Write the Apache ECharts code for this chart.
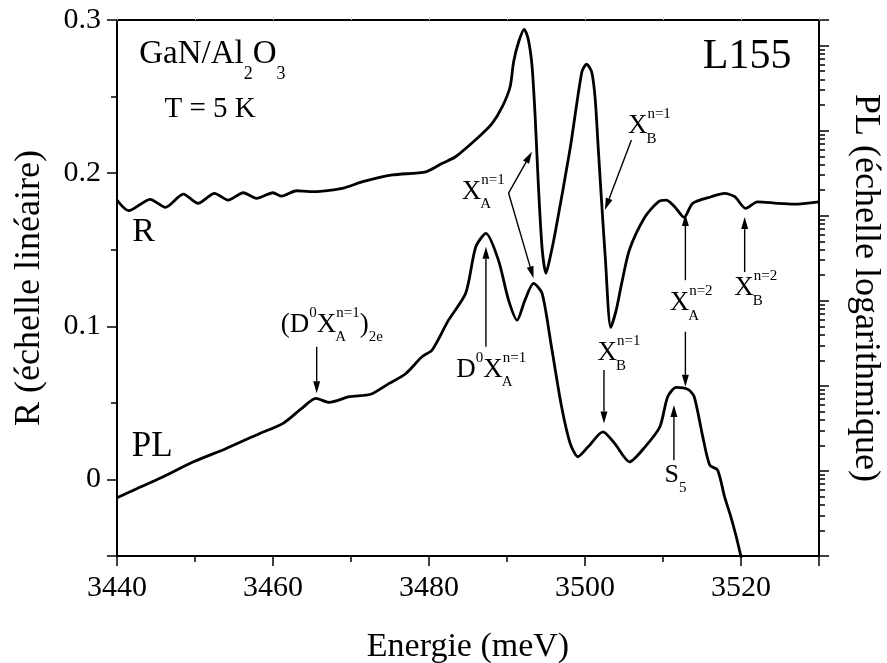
<!DOCTYPE html>
<html>
<head>
<meta charset="utf-8">
<title>GaN/Al2O3 L155</title>
<script src="https://cdn.jsdelivr.net/npm/echarts@6/dist/echarts.min.js"></script>
<style>
  html, body { margin: 0; padding: 0; background: #fff; }
  #chart { width: 887px; height: 663px; }
</style>
</head>
<body>
<div id="chart"></div>
<script>
// reflectance curve (R), energy in meV
const rEnergy = [3440.0, 3441.5, 3444.25, 3446.2, 3448.5, 3450.4, 3452.5, 3454.25, 3456.2, 3457.9,
  3460.0, 3461.1, 3463.0, 3464.7, 3468.9, 3471.5, 3475.3, 3479.6, 3481.7, 3483.4,
  3486.4, 3488.1, 3489.4, 3490.4, 3490.85, 3491.5, 3492.2, 3492.7, 3493.2, 3493.6,
  3494.0, 3494.5, 3495.0, 3495.5, 3496.2, 3498.1, 3499.6, 3500.2, 3500.85, 3501.3,
  3501.7, 3502.1, 3502.6, 3503.3, 3504.0, 3504.7, 3505.7, 3507.7, 3509.4, 3510.4,
  3511.5, 3512.7, 3513.8, 3516.2, 3517.9, 3519.2, 3520.6, 3522.1, 3524.7, 3526.8, 3530.0];
const rValue = [0.1824, 0.1755, 0.1829, 0.1777, 0.1863, 0.1803, 0.1868, 0.1824, 0.1872, 0.1835,
  0.1872, 0.1850, 0.1885, 0.1879, 0.1901, 0.1944, 0.1988, 0.2009, 0.2064, 0.2107,
  0.2238, 0.2325, 0.2434, 0.2564, 0.2728, 0.2858, 0.2939, 0.2880, 0.2706, 0.2380,
  0.1944, 0.1509, 0.1346, 0.1443, 0.1617, 0.2162, 0.2662, 0.2711, 0.2662, 0.2489,
  0.2162, 0.1835, 0.1450, 0.0993, 0.1106, 0.1280, 0.1500, 0.1715, 0.1813, 0.1824,
  0.1781, 0.1711, 0.1803, 0.1846, 0.1868, 0.1846, 0.1770, 0.1813, 0.1803, 0.1798, 0.1813];

// photoluminescence curve (PL), drawn in the left-axis units
const plEnergy = [3440.0, 3442.6, 3445.5, 3449.8, 3454.0, 3458.3, 3461.3, 3463.6, 3465.5, 3467.2,
  3469.8, 3472.5, 3474.9, 3477.0, 3479.1, 3480.4, 3482.5, 3484.7, 3486.0, 3487.3,
  3488.9, 3490.2, 3491.3, 3492.3, 3493.4, 3494.5, 3495.7, 3497.0, 3498.1, 3499.1,
  3500.4, 3502.3, 3503.8, 3505.7, 3507.7, 3509.6, 3510.6, 3511.7, 3513.2, 3514.0,
  3515.1, 3516.0, 3517.0, 3517.9, 3518.7, 3519.4, 3519.8, 3520.0, 3520.3];
const plValue = [-0.0120, -0.0059, 0.0007, 0.0115, 0.0202, 0.0300, 0.0366, 0.0460, 0.0529, 0.0503,
  0.0540, 0.0556, 0.0627, 0.0690, 0.0801, 0.0845, 0.1040, 0.1215, 0.1519, 0.1607,
  0.1432, 0.1171, 0.1040, 0.1171, 0.1280, 0.1215, 0.0866, 0.0474, 0.0235, 0.0148,
  0.0213, 0.0311, 0.0235, 0.0115, 0.0213, 0.0344, 0.0540, 0.0601, 0.0588, 0.0540,
  0.0278, 0.0093, 0.0061, -0.0114, -0.0244, -0.0375, -0.0462, -0.0505, -0.0600];

// annotations: anchor [energy, R], font size, subscript drop, pieces
const labelAt = [[3442.85, 0.2706], [3446.08, 0.2353], [3515.1, 0.2669], [3441.96, 0.1544], [3441.9, 0.0139],
  [3484.2, 0.1824], [3505.5, 0.2249], [3510.85, 0.1095], [3519.15, 0.1193], [3501.6, 0.0768],
  [3510.2, -0.0026], [3483.5, 0.0660], [3461.0, 0.0955]];
const labelSize = [33, 29, 42, 34, 35, 27, 27, 27, 27, 27, 26, 27, 27];
const labelSubDrop = [0.44, 0.34, 0.34, 0.34, 0.34, 0.32, 0.32, 0.32, 0.32, 0.32, 0.36, 0.32, 0.34];
const labelParts = [
  [['GaN/Al', 'n'], ['2', 'sub'], ['O', 'n'], ['3', 'sub']],
  [['T = 5 K', 'n']],
  [['L155', 'n']],
  [['R', 'n']],
  [['PL', 'n']],
  [['X', 'n'], ['n=1', 'ss', 'A']],
  [['X', 'n'], ['n=1', 'ss', 'B']],
  [['X', 'n'], ['n=2', 'ss', 'A']],
  [['X', 'n'], ['n=2', 'ss', 'B']],
  [['X', 'n'], ['n=1', 'ss', 'B']],
  [['S', 'n'], ['5', 'sub']],
  [['D', 'n'], ['0', 'sup'], ['X', 'n'], ['n=1', 'ss', 'A']],
  [['(D', 'n'], ['0', 'sup'], ['X', 'n'], ['n=1', 'ss', 'A'], [')', 'n'], ['2e', 'sub']]
];

// arrows: tail -> head
const arrowTail = [[3490.2, 0.1870], [3490.2, 0.1870], [3505.95, 0.2216], [3512.87, 0.1301], [3512.87, 0.0964],
  [3520.47, 0.1354], [3502.43, 0.0714], [3511.4, 0.0126], [3487.3, 0.0866], [3465.6, 0.0866]];
const arrowHead = [[3493.2, 0.2140], [3493.4, 0.1313], [3502.55, 0.1759], [3512.87, 0.1733], [3512.87, 0.0605],
  [3520.47, 0.1713], [3502.43, 0.0366], [3511.4, 0.0486], [3487.3, 0.1519], [3465.6, 0.0562]];

const FONT = 'Liberation Serif';
const zip = (a, b) => a.map((v, i) => [v, b[i]]);

const chart = echarts.init(document.getElementById('chart'));

const option = {
    animation: false,
    backgroundColor: '#fff',
    grid: { left: 117, right: 68, top: 20, bottom: 107, containLabel: false, outerBoundsMode: 'none' },
    xAxis: [{
        type: 'value', min: 3440, max: 3530, interval: 20,
        name: 'Energie (meV)', nameLocation: 'middle', nameGap: 74,
        nameTextStyle: { fontFamily: FONT, fontSize: 34, color: '#000' },
        axisLine: { show: true, onZero: false, lineStyle: { color: '#000', width: 2 } },
        axisTick: { show: true, length: 10, lineStyle: { color: '#000', width: 1.5 } },
        minorTick: { show: true, splitNumber: 2, length: 6, lineStyle: { color: '#000', width: 1.5 } },
        axisLabel: {
            fontFamily: FONT, fontSize: 30, color: '#000', margin: 17, showMaxLabel: false,
            formatter: v => String(v)
        },
        splitLine: { show: false }
    }, {
        type: 'value', position: 'top', min: 3440, max: 3530, interval: 10,
        axisLine: { show: true, onZero: false, lineStyle: { color: '#000', width: 2 } },
        axisTick: { show: true, length: 3, lineStyle: { color: '#ccc', width: 1 } },
        axisLabel: { show: false },
        splitLine: { show: false }
    }],
    yAxis: [{
        type: 'value', min: -0.05, max: 0.3, splitNumber: 3,
        name: 'R (échelle linéaire)', nameLocation: 'middle', nameGap: 69, nameRotate: 90,
        nameTextStyle: { fontFamily: FONT, fontSize: 36, color: '#000' },
        axisLine: { show: true, onZero: false, lineStyle: { color: '#000', width: 2 } },
        axisTick: { show: true, length: 10, lineStyle: { color: '#000', width: 1.5 } },
        minorTick: { show: true, splitNumber: 2, length: 6, lineStyle: { color: '#000', width: 1.5 } },
        axisLabel: {
            fontFamily: FONT, fontSize: 30, color: '#000', margin: 16,
            formatter: v => (v < -0.01 ? '' : String(+v.toFixed(2)))
        },
        splitLine: { show: false }
    }, {
        type: 'log', logBase: 10, min: 1, max: 2e6, position: 'right',
        name: 'PL (échelle logarithmique)', nameLocation: 'middle', nameGap: 28, nameRotate: -90,
        nameTextStyle: { fontFamily: FONT, fontSize: 36, color: '#000' },
        axisLine: { show: true, onZero: false, lineStyle: { color: '#000', width: 2 } },
        axisTick: { show: true, length: 10, lineStyle: { color: '#000', width: 1.5 } },
        minorTick: { show: true, splitNumber: 9, length: 6, lineStyle: { color: '#000', width: 1.5 } },
        axisLabel: { show: false },
        splitLine: { show: false }
    }],
    series: [{
        name: 'R', type: 'line', data: zip(rEnergy, rValue),
        showSymbol: false, smooth: 0.25,
        lineStyle: { color: '#000', width: 2.8 }
    }, {
        name: 'PL', type: 'line', data: zip(plEnergy, plValue),
        showSymbol: false, smooth: 0.25,
        lineStyle: { color: '#000', width: 2.8 }
    }]
};
chart.setOption(option);

// annotations placed through the axes
const ctx = document.createElement('canvas').getContext('2d');
function textWidth(t, s) {
    ctx.font = s + 'px "' + FONT + '"';
    return ctx.measureText(t).width;
}
function toPx(p) {
    return chart.convertToPixel({ xAxisIndex: 0, yAxisIndex: 0 }, p);
}
const els = [];
function addText(t, x, baseline, s) {
    els.push({
        type: 'text', silent: true,
        style: {
            text: t, x: x, y: baseline - 0.32 * s,
            font: s + 'px "' + FONT + '"', fill: '#000',
            textVerticalAlign: 'middle', verticalAlign: 'middle'
        }
    });
}
labelAt.forEach((at, i) => {
    const p = toPx(at);
    const F = labelSize[i];
    const f = Math.round(F * 0.56);
    let x = p[0];
    labelParts[i].forEach(part => {
        if (part[1] === 'n') {
            addText(part[0], x, p[1], F);
            x += textWidth(part[0], F);
        } else if (part[1] === 'sup') {
            addText(part[0], x, p[1] - 0.58 * F, f);
            x += textWidth(part[0], f);
        } else if (part[1] === 'sub') {
            addText(part[0], x, p[1] + labelSubDrop[i] * F, f);
            x += textWidth(part[0], f);
        } else {
            addText(part[0], x, p[1] - 0.58 * F, f);
            addText(part[2], x - 1, p[1] + labelSubDrop[i] * F, f);
            x += Math.max(textWidth(part[0], f), textWidth(part[2], f));
        }
    });
});

arrowTail.forEach((tail, i) => {
    const a = toPx(tail), b = toPx(arrowHead[i]);
    const dx = b[0] - a[0], dy = b[1] - a[1];
    const len = Math.hypot(dx, dy);
    const ux = dx / len, uy = dy / len;
    const hl = 12, hw = 3.5;
    const bx = b[0] - ux * hl, by = b[1] - uy * hl;
    els.push({ type: 'line', silent: true, shape: { x1: a[0], y1: a[1], x2: bx, y2: by },
        style: { stroke: '#000', lineWidth: 1.4 } });
    els.push({ type: 'polygon', silent: true,
        shape: { points: [[b[0], b[1]], [bx - uy * hw, by + ux * hw], [bx + uy * hw, by - ux * hw]] },
        style: { fill: '#000' } });
});

chart.setOption({ graphic: els });
</script>
</body>
</html>
